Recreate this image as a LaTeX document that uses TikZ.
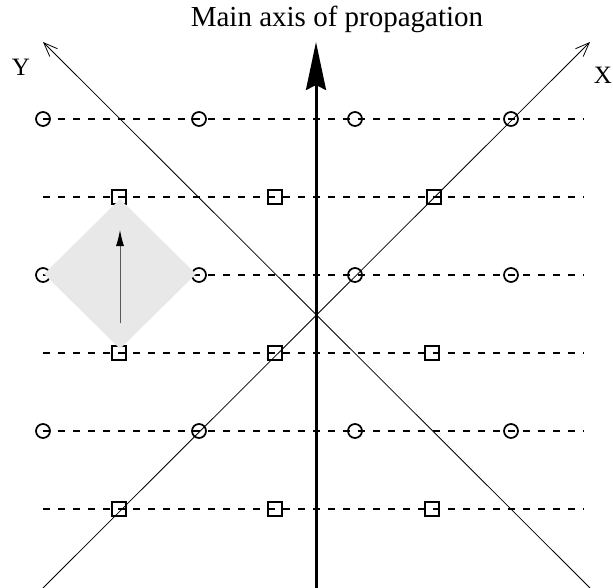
\documentclass[tikz,border=0pt]{standalone}
\usepackage{fontspec}
\setmainfont{Liberation Serif}
\usetikzlibrary{arrows.meta, shapes.geometric}

\begin{document}
\begin{tikzpicture}[
  x=1pt, y=-1pt,
  lbl/.style={font=\fontsize{25}{30}\selectfont, inner sep=0pt},
  site/.style={draw, circle, line width=1.7pt, minimum size=14pt, inner sep=0pt},
  cell/.style={draw, rectangle, line width=1.7pt, minimum size=14pt, inner sep=0pt},
  row/.style={line width=1.8pt, dash pattern=on 7pt off 8pt},
  axis/.style={line width=0.8pt, -{Straight Barb[length=14pt,width=11pt]}}
]
  \useasboundingbox (0,0) rectangle (613,588);

  % row ends
  \coordinate (w1) at (43,119);  \coordinate (e1) at (584,119);
  \coordinate (w2) at (43,197);  \coordinate (e2) at (584,197);
  \coordinate (w3) at (43,275);  \coordinate (e3) at (584,275);
  \coordinate (w4) at (43,353);  \coordinate (e4) at (584,353);
  \coordinate (w5) at (43,431);  \coordinate (e5) at (584,431);
  \coordinate (w6) at (43,509);  \coordinate (e6) at (584,509);

  \draw[row] (w1) -- (e1);
  \draw[row] (w2) -- (e2);
  \draw[row] (w3) -- (e3);
  \draw[row] (w4) -- (e4);
  \draw[row] (w5) -- (e5);
  \draw[row] (w6) -- (e6);

  % circles
  \node[site] (c11) at (43,119) {};
  \node[site] (c12) at (199,119) {};
  \node[site] (c13) at (355,119) {};
  \node[site] (c14) at (511,119) {};
  \node[site] (c21) at (43,275) {};
  \node[site] (c22) at (199,275) {};
  \node[site] (c23) at (355,275) {};
  \node[site] (c24) at (511,275) {};
  \node[site] (c31) at (43,431) {};
  \node[site] (c32) at (199,431) {};
  \node[site] (c33) at (355,431) {};
  \node[site] (c34) at (511,431) {};

  % squares
  \node[cell] (s11) at (119,197) {};
  \node[cell] (s12) at (275,197) {};
  \node[cell] (s13) at (434,197) {};
  \node[cell] (s21) at (119,353) {};
  \node[cell] (s22) at (275,353) {};
  \node[cell] (s23) at (432,353) {};
  \node[cell] (s31) at (119,509) {};
  \node[cell] (s32) at (275,509) {};
  \node[cell] (s33) at (432,509) {};

  % shaded cell with its moment
  \node[diamond, fill=gray!18, minimum width=152pt, minimum height=150pt, inner sep=0pt] (spin) at (120,274) {};
  \coordinate (spinlo) at (120,323);
  \coordinate (spinhi) at (120,230);
  \draw[line width=0.9pt, black!65, -{Latex[length=16pt,width=8pt,color=black]}] (spinlo) -- (spinhi);

  % crossed axes
  \coordinate (xs) at (43,588);  \coordinate (xe) at (590,42);
  \coordinate (ys) at (590,588); \coordinate (ye) at (43,42);
  \draw[axis] (xs) -- (xe);
  \draw[axis] (ys) -- (ye);
  \node[lbl] (xl) at (603,75) {X};
  \node[lbl] (yl) at (21,67) {Y};

  % propagation
  \coordinate (p0) at (316,588);
  \coordinate (p1) at (316,42);
  \draw[line width=3pt, -{Stealth[length=48pt,width=20pt,inset=5pt]}] (p0) -- (p1);
  \node[lbl, font=\fontsize{29}{34}\selectfont] (title) at (337,19) {Main axis of propagation};
\end{tikzpicture}
\end{document}
